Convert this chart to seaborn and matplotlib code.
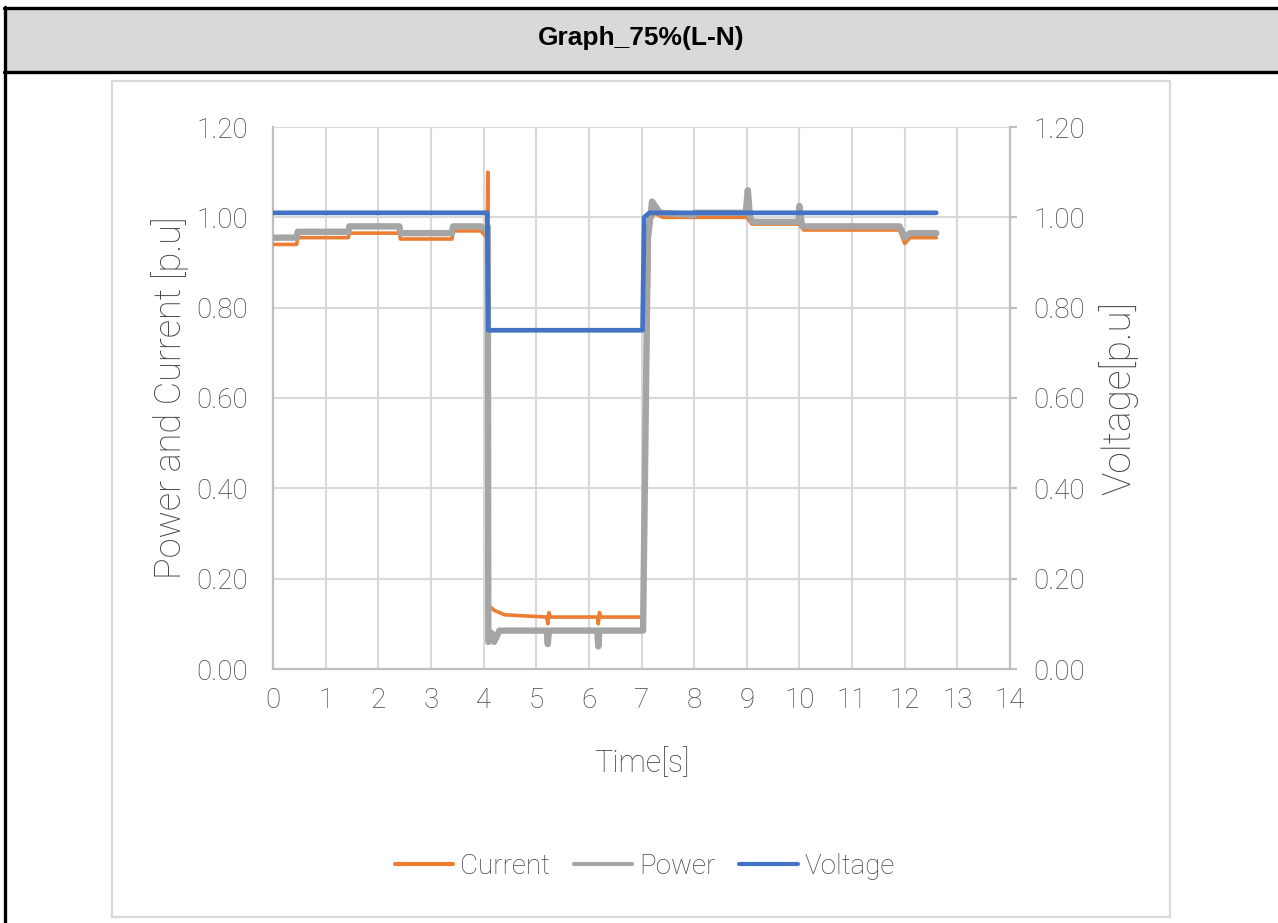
import matplotlib
matplotlib.use("Agg")
import matplotlib.pyplot as plt
import seaborn as sns
import pandas as pd
from matplotlib.patches import Rectangle
from matplotlib.lines import Line2D
from matplotlib.ticker import FormatStrFormatter

# ---------------- data ----------------
title = "Graph_75%(L-N)"
x_label = "Time[s]"
y_label_left = "Power and Current [p.u]"
y_label_right = "Voltage[p.u]"
series_names = ["Current", "Power", "Voltage"]

current_t = [0, 0.45, 0.47, 1.43, 1.45, 2.40, 2.42, 3.40, 3.42, 3.95, 4.04, 4.07, 4.08, 4.10,
             4.20, 4.40, 5.20, 5.22, 5.24, 5.27, 6.16, 6.18, 6.20, 6.23, 7.03, 7.15, 7.25, 7.40,
             9.00, 9.10, 10.00, 10.08, 11.90, 12.00, 12.10, 12.60]
current_v = [0.940, 0.940, 0.955, 0.955, 0.965, 0.965, 0.952, 0.952, 0.970, 0.970, 0.958, 0.970, 1.100, 0.140,
             0.130, 0.120, 0.115, 0.100, 0.125, 0.115, 0.115, 0.100, 0.125, 0.115, 0.115, 0.990, 1.010, 1.000,
             1.000, 0.985, 0.985, 0.972, 0.972, 0.942, 0.955, 0.955]

power_t = [0, 0.45, 0.47, 1.43, 1.45, 2.40, 2.42, 3.40, 3.42, 3.95, 4.05, 4.08, 4.09, 4.15,
           4.20, 4.30, 5.20, 5.22, 5.24, 6.16, 6.18, 6.20, 7.03, 7.12, 7.20, 7.35, 8.00, 8.02,
           8.98, 9.02, 9.06, 9.12, 9.98, 10.00, 10.05, 11.90, 12.00, 12.10, 12.60]
power_v = [0.955, 0.955, 0.968, 0.968, 0.980, 0.980, 0.965, 0.965, 0.980, 0.980, 0.970, 0.980, 0.060, 0.080,
           0.060, 0.085, 0.085, 0.055, 0.085, 0.085, 0.050, 0.085, 0.085, 0.950, 1.035, 1.010, 1.005, 1.010,
           1.010, 1.060, 1.000, 0.990, 0.990, 1.025, 0.980, 0.980, 0.955, 0.965, 0.965]

voltage_t = [0, 4.07, 4.09, 7.02, 7.05, 7.15, 12.60]
voltage_v = [1.01, 1.01, 0.75, 0.75, 1.00, 1.01, 1.01]

x_ticks = list(range(0, 15))
y_ticks = [0.0, 0.2, 0.4, 0.6, 0.8, 1.0, 1.2]

colors = {"Current": "#ED7D31", "Power": "#A5A5A5", "Voltage": "#4472C4"}

# ---------------- styling ----------------
sns.set_theme(style="white")
plt.rcParams["font.family"] = ["Roboto", "Liberation Sans", "DejaVu Sans"]
plt.rcParams["font.weight"] = "light"
plt.rcParams["axes.labelweight"] = "light"
TXT = "#444444"
GRID = "#d9d9d9"
AXL = "#bfbfbf"

W, H = 1278, 923
fig = plt.figure(figsize=(W / 100, H / 100), dpi=100)
fig.patch.set_facecolor("white")

# header band and table borders
fig.add_artist(Rectangle((5 / W, 1 - 72 / H), 1, 64 / H, transform=fig.transFigure,
                         facecolor="#d9d9d9", edgecolor="none", zorder=0))
fig.add_artist(Line2D([4 / W, 1], [1 - 8 / H, 1 - 8 / H], transform=fig.transFigure, color="black", lw=2.4))
fig.add_artist(Line2D([4 / W, 1], [1 - 72 / H, 1 - 72 / H], transform=fig.transFigure, color="black", lw=2.4))
fig.add_artist(Line2D([5 / W, 5 / W], [0, 1 - 7 / H], transform=fig.transFigure, color="black", lw=2.4))
fig.text(641 / W, 1 - 38 / H, title, ha="center", va="center", fontsize=19, fontweight="bold",
         family=["Liberation Sans", "DejaVu Sans"], color="black")

# chart frame
fig.add_artist(Rectangle((112 / W, 1 - 917 / H), (1170 - 112) / W, (917 - 81) / H, transform=fig.transFigure,
                         facecolor="none", edgecolor=GRID, lw=1.6, zorder=0))

ax = fig.add_axes([273 / W, 1 - 669 / H, (1010 - 273) / W, (669 - 127) / H])
ax2 = ax.twinx()

df_c = pd.DataFrame({"t": current_t, "v": current_v})
df_p = pd.DataFrame({"t": power_t, "v": power_v})
df_v = pd.DataFrame({"t": voltage_t, "v": voltage_v})

sns.lineplot(data=df_c, x="t", y="v", ax=ax, sort=False, estimator=None, color=colors["Current"],
             lw=2.6, label=series_names[0], legend=False, zorder=3)
sns.lineplot(data=df_p, x="t", y="v", ax=ax, sort=False, estimator=None, color=colors["Power"],
             lw=4.6, label=series_names[1], legend=False, zorder=4)
sns.lineplot(data=df_v, x="t", y="v", ax=ax2, sort=False, estimator=None, color=colors["Voltage"],
             lw=3.4, label=series_names[2], legend=False, zorder=5)

for a in (ax, ax2):
    a.set_xlim(0, 14)
    a.set_ylim(0, 1.2)
    a.set_yticks(y_ticks)
    a.yaxis.set_major_formatter(FormatStrFormatter("%.2f"))
    for s in a.spines.values():
        s.set_visible(False)

ax.set_xticks(x_ticks)
ax.grid(True, color=GRID, lw=1.5)
ax.set_axisbelow(True)
ax.spines["left"].set_visible(True)
ax.spines["bottom"].set_visible(True)
ax.spines["left"].set_color(AXL)
ax.spines["bottom"].set_color(AXL)
ax.spines["left"].set_linewidth(1.6)
ax.spines["bottom"].set_linewidth(1.6)
ax2.spines["right"].set_visible(True)
ax2.spines["right"].set_color(AXL)
ax2.spines["right"].set_linewidth(1.6)
ax2.patch.set_visible(False)
ax.set_zorder(1)
ax2.set_zorder(2)

ax.tick_params(axis="y", length=0, pad=18, labelsize=20, labelcolor=TXT)
ax.tick_params(axis="x", length=0, pad=13, labelsize=20, labelcolor=TXT)
ax2.tick_params(axis="y", length=5, width=1.6, color=AXL, pad=12, labelsize=20, labelcolor=TXT)

ax.set_xlabel(x_label, fontsize=22, color=TXT)
ax.set_ylabel(y_label_left, fontsize=26, color=TXT)
ax2.set_ylabel(y_label_right, fontsize=28, color=TXT)
ax.xaxis.set_label_coords(0.5, -0.172)
ax.xaxis.label.set_va("center")
ax.yaxis.set_label_coords(-0.14, 0.5)
ax.yaxis.label.set_va("center")
ax2.yaxis.set_label_coords(1.1466, 0.5)
ax2.yaxis.label.set_va("center")
ax2.yaxis.label.set_rotation(90)

handles = [Line2D([], [], color=colors[n], lw=3.0, solid_capstyle="round") for n in series_names]
fig.legend(handles, series_names, loc="center", bbox_to_anchor=(645 / W, 1 - 866 / H), ncol=3,
           frameon=False, fontsize=20, labelcolor=TXT, handlelength=2.1, handletextpad=0.25,
           columnspacing=0.85)

fig.savefig("out.png", dpi=100)
